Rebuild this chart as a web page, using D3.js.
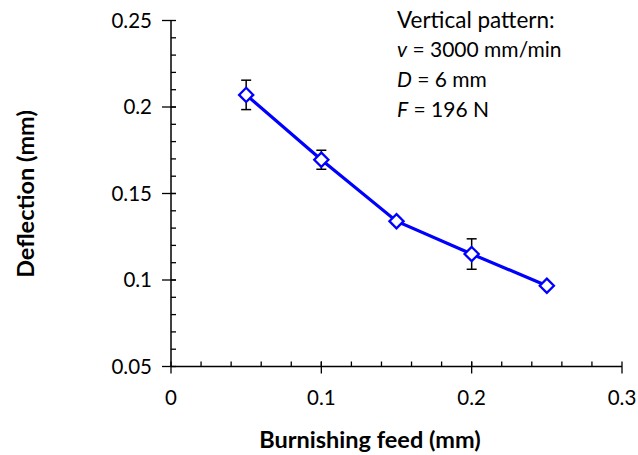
<!DOCTYPE html>
<html>
<head>
<meta charset="utf-8">
<script src="https://cdn.jsdelivr.net/npm/d3@7"></script>
<style>
  html, body { margin: 0; padding: 0; background: #fff; }
  svg { display: block; }
  text { font-family: Lato, "Open Sans", sans-serif; fill: #000; }
</style>
</head>
<body>
<svg id="chart" width="638" height="455"></svg>
<script>
// Burnishing feed (mm) vs. deflection (mm), with standard-deviation error bars
const feed       = [0.05, 0.10, 0.15, 0.20, 0.25];
const deflection = [0.207, 0.1695, 0.134, 0.115, 0.0967];
const errBar     = [0.0085, 0.0055, 0.0015, 0.0088, 0.0015];

const xTicks = [0, 0.1, 0.2, 0.3];
const yTicks = [0.05, 0.1, 0.15, 0.2, 0.25];

const noteLines = [
  [{t: "Vertical pattern:", i: false}],
  [{t: "v", i: true}, {t: " = 3000 mm/min", i: false}],
  [{t: "D", i: true}, {t: " = 6 mm", i: false}],
  [{t: "F", i: true}, {t: " = 196 N", i: false}]
];

const svg = d3.select("#chart");
const x = d3.scaleLinear().domain([0, 0.3]).range([171, 622]);
const y = d3.scaleLinear().domain([0.05, 0.25]).range([366.5, 20.5]);

const fmt = d => String(+d.toFixed(2));

// Y axis: major ticks cross the line, minor ticks sit inside
const yAxis = svg.append("g").attr("transform", `translate(${x(0)},0)`);
yAxis.append("line").attr("y1", y(0.05)).attr("y2", y(0.25))
  .attr("stroke", "#000").attr("stroke-width", 1.5);
yAxis.selectAll("line.minor").data(d3.range(0.06, 0.25, 0.01))
  .join("line").attr("class", "minor")
  .attr("x1", 0).attr("x2", 5).attr("y1", d => y(d)).attr("y2", d => y(d))
  .attr("stroke", "#000").attr("stroke-width", 1.3);
yAxis.selectAll("line.major").data(yTicks).join("line").attr("class", "major")
  .attr("x1", -9).attr("x2", 5).attr("y1", d => y(d)).attr("y2", d => y(d))
  .attr("stroke", "#000").attr("stroke-width", 1.3);
yAxis.selectAll("text").data(yTicks).join("text")
  .attr("x", -19).attr("y", d => y(d)).attr("dy", "0.35em")
  .attr("text-anchor", "end").attr("font-size", 20.5).text(fmt);

// X axis
const xAxis = svg.append("g").attr("transform", `translate(0,${y(0.05)})`);
xAxis.append("line").attr("x1", x(0)).attr("x2", x(0.3))
  .attr("stroke", "#000").attr("stroke-width", 1.5);
xAxis.selectAll("line.minor").data(d3.range(0.02, 0.3, 0.02))
  .join("line").attr("class", "minor")
  .attr("x1", d => x(d)).attr("x2", d => x(d)).attr("y1", -5).attr("y2", 0)
  .attr("stroke", "#000").attr("stroke-width", 1.3);
xAxis.selectAll("line.major").data(xTicks).join("line").attr("class", "major")
  .attr("x1", d => x(d)).attr("x2", d => x(d)).attr("y1", -5).attr("y2", 7)
  .attr("stroke", "#000").attr("stroke-width", 1.3);
xAxis.selectAll("text").data(xTicks).join("text")
  .attr("x", d => x(d)).attr("y", 31).attr("dy", "0.35em")
  .attr("text-anchor", "middle").attr("font-size", 20.5).text(fmt);

// Axis titles
svg.append("text").attr("x", 370).attr("y", 440).attr("dy", "0.35em")
  .attr("text-anchor", "middle").attr("font-size", 23.5).attr("font-weight", "bold")
  .text("Burnishing feed (mm)");
svg.append("text").attr("transform", "translate(26,194) rotate(-90)")
  .attr("dy", "0.35em").attr("text-anchor", "middle")
  .attr("font-size", 23.5).attr("font-weight", "bold")
  .text("Deflection (mm)");

const pts = feed.map((f, i) => ({f, v: deflection[i], e: errBar[i]}));

// Error bars
const eb = svg.append("g").attr("stroke", "#000").attr("stroke-width", 1.5);
pts.forEach(p => {
  eb.append("line").attr("x1", x(p.f)).attr("x2", x(p.f))
    .attr("y1", y(p.v - p.e)).attr("y2", y(p.v + p.e));
  [p.v - p.e, p.v + p.e].forEach(v => eb.append("line")
    .attr("x1", x(p.f) - 5).attr("x2", x(p.f) + 5)
    .attr("y1", y(v)).attr("y2", y(v)));
});

// Series line
svg.append("path").datum(pts)
  .attr("d", d3.line().x(d => x(d.f)).y(d => y(d.v)))
  .attr("fill", "none").attr("stroke", "#0000ff").attr("stroke-width", 3.2);

// Diamond markers
svg.selectAll("path.mk").data(pts).join("path").attr("class", "mk")
  .attr("d", d3.symbol().type(d3.symbolDiamond2).size(128))
  .attr("transform", d => `translate(${x(d.f)},${y(d.v)})`)
  .attr("fill", "#fff").attr("stroke", "#0000ff").attr("stroke-width", 2.3);

// Process parameters note
const note = svg.append("g");
noteLines.forEach((line, k) => {
  const t = note.append("text").attr("x", 397).attr("y", 20 + k * 30)
    .attr("dy", "0.35em").attr("font-size", k === 0 ? 22.5 : 21);
  line.forEach(s => t.append("tspan").attr("font-style", s.i ? "italic" : "normal").text(s.t));
});
</script>
</body>
</html>
